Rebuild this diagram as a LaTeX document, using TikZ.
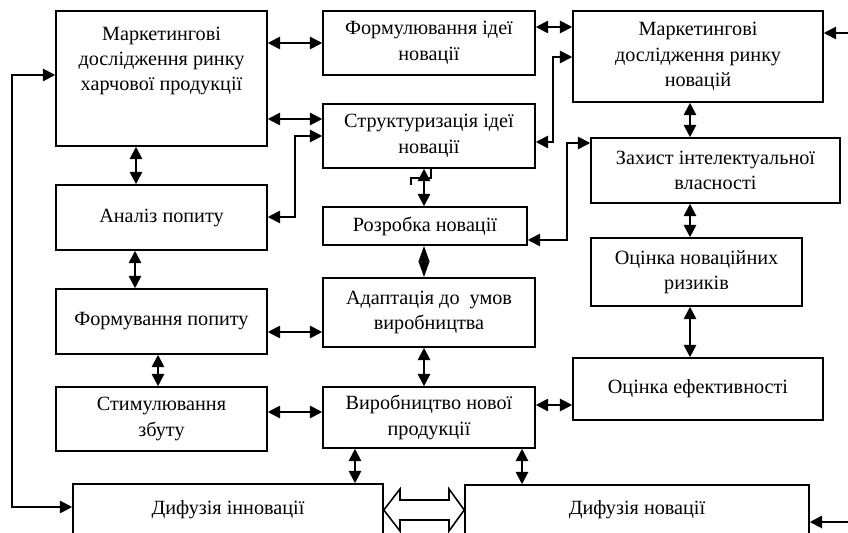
\documentclass[tikz,border=0pt]{standalone}
\usepackage{fontspec}
\setmainfont{Liberation Serif}
\usetikzlibrary{arrows.meta}

\begin{document}
\begin{tikzpicture}[x=0.02cm, y=-0.02cm,
    box/.style={draw, line width=0.9pt, align=center, inner sep=0pt,
        font=\fontsize{11.5pt}{14.5pt}\selectfont},
    link/.style={line width=1.1pt, {Triangle[length=7pt,width=7pt]}-{Triangle[length=7pt,width=7pt]}},
    oneway/.style={line width=1.1pt, -{Triangle[length=7pt,width=7pt]}},
    hollow/.style={line width=0.9pt, fill=white, line join=miter}]
    \useasboundingbox (0,0) rectangle (848,533);
    \clip (0,0) rectangle (848,533);

    % left column
    \node[box, minimum width=4.22cm, minimum height=2.7cm] (market) at (161.5,78.5) {};
    \node[box, draw=none] (markettext) at (161.5,61) {Маркетингові\\дослідження ринку\\харчової продукції};
    \node[box, minimum width=4.22cm, minimum height=1.3cm] (analysis) at (161.5,217.5) {Аналіз попиту};
    \node[box, minimum width=4.22cm, minimum height=1.3cm] (demand) at (161.5,321.5) {Формування попиту};
    \node[box, minimum width=4.22cm, minimum height=1.28cm] (sales) at (161.5,419) {Стимулювання\\збуту};

    % middle column
    \node[box, minimum width=4.24cm, minimum height=1.28cm] (idea) at (429,43) {Формулювання ідеї\\новації};
    \node[box, minimum width=4.24cm, minimum height=1.28cm] (struct) at (429,136) {Структуризація ідеї\\новації};
    \node[box, minimum width=4.08cm, minimum height=0.76cm] (develop) at (425,226) {Розробка новації};
    \node[box, minimum width=4.24cm, minimum height=1.38cm] (adapt) at (429,312.5) {Адаптація до\ \ умов\\виробництва};
    \node[box, minimum width=4.24cm, minimum height=1.22cm] (produce) at (429,417.5) {Виробництво нової\\продукції};

    % right column
    \node[box, minimum width=5cm, minimum height=1.82cm] (novmarket) at (698,56.5) {Маркетингові\\дослідження ринку\\новацій};
    \node[box, minimum width=4.98cm, minimum height=1.3cm] (protect) at (715.5,170.5) {Захист інтелектуальної\\власності};
    \node[box, minimum width=4.22cm, minimum height=1.36cm] (risk) at (696.5,272) {Оцінка новаційних\\ризиків};
    \node[box, minimum width=5cm, minimum height=1.24cm] (effect) at (698,389) {Оцінка ефективності};

    % bottom row
    \node[box, minimum width=6.2cm, minimum height=1.04cm] (diffinn) at (228,510) {Дифузія інновації};
    \node[box, minimum width=6.88cm, minimum height=1cm] (diffnov) at (637,510) {Дифузія новації};

    \coordinate (inTop) at (848,33);
    \coordinate (inBottom) at (848,522);

    % connectors
    \draw[link] (market.east |- 0,43) -- (idea.west);
    \draw[link] (market.east |- 0,119) -- (struct.west |- 0,119);
    \draw[link] (analysis.east |- 0,217) -| (295,136) -- (struct.west |- 0,136);
    \draw[link] (idea.east |- 0,27) -- (novmarket.west |- 0,27);
    \draw[link] (struct.east |- 0,142) -| (553,57) -- (novmarket.west |- 0,57);
    \draw[link] (novmarket.south -| 690,0) -- (protect.north -| 690,0);
    \draw[link] (develop.east |- 0,240) -| (567,143) -- (protect.west |- 0,143);
    \draw[link] (struct.south -| 424,0) -- (develop.north -| 424,0);
    \draw[line width=1.1pt] (411,185) |- (431,178) -- (struct.south -| 431,0);
    \draw[line width=1.1pt, {Triangle[length=9pt,width=6pt]}-{Triangle[length=9pt,width=6pt]}]
        (develop.south -| 424,0) -- (adapt.north -| 424,0);
    \draw[link] (market.south -| 136,0) -- (analysis.north -| 136,0);
    \draw[link] (analysis.south -| 135,0) -- (demand.north -| 135,0);
    \draw[link] (demand.east |- 0,332) -- (adapt.west |- 0,332);
    \draw[link] (demand.south -| 158,0) -- (sales.north -| 158,0);
    \draw[link] (adapt.south -| 424,0) -- (produce.north -| 424,0);
    \draw[link] (sales.east |- 0,412) -- (produce.west |- 0,412);
    \draw[link] (produce.east |- 0,405) -- (effect.west |- 0,405);
    \draw[link] (protect.south -| 690,0) -- (risk.north -| 690,0);
    \draw[link] (risk.south -| 690,0) -- (effect.north -| 690,0);
    \draw[link] (produce.south -| 355,0) -- (diffinn.north -| 355,0);
    \draw[link] (produce.south -| 522,0) -- (diffnov.north -| 522,0);
    \draw[link] (diffinn.west |- 0,507) -| (12,75) -- (market.west |- 0,75);
    \draw[oneway] (inTop) -- (novmarket.east |- inTop);
    \draw[oneway] (inBottom) -- (diffnov.east |- inBottom);

    % hollow double arrow
    \draw[hollow] (diffinn.east |- 0,510) -- (400,489) -- (400,500) -- (449,500) -- (449,489)
        -- (diffnov.west |- 0,510) -- (449,531) -- (449,520) -- (400,520) -- (400,531) -- cycle;
\end{tikzpicture}
\end{document}
